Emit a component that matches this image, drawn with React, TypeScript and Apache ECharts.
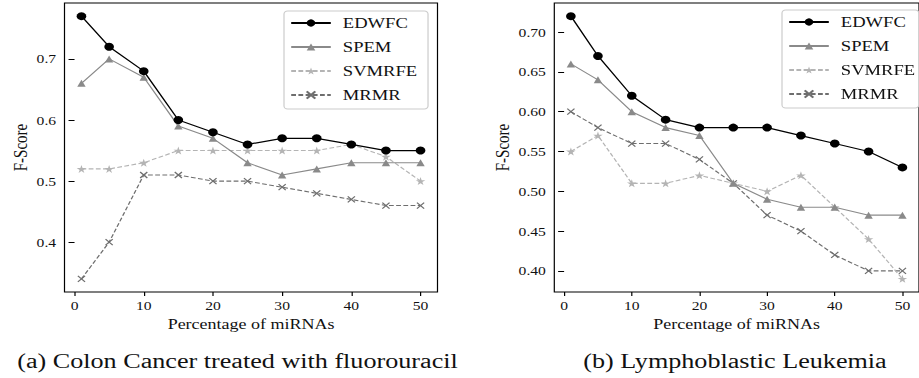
import React, { useEffect, useRef } from "react";
import * as echarts from "echarts";

// ---- data ----
const xValues = [1, 5, 10, 15, 20, 25, 30, 35, 40, 45, 50];
const seriesNames = ["EDWFC", "SPEM", "SVMRFE", "MRMR"];

const colonEDWFC = [0.77, 0.72, 0.68, 0.6, 0.58, 0.56, 0.57, 0.57, 0.56, 0.55, 0.55];
const colonSPEM = [0.66, 0.7, 0.67, 0.59, 0.57, 0.53, 0.51, 0.52, 0.53, 0.53, 0.53];
const colonSVMRFE = [0.52, 0.52, 0.53, 0.55, 0.55, 0.55, 0.55, 0.55, 0.56, 0.54, 0.5];
const colonMRMR = [0.34, 0.4, 0.51, 0.51, 0.5, 0.5, 0.49, 0.48, 0.47, 0.46, 0.46];

const leukEDWFC = [0.72, 0.67, 0.62, 0.59, 0.58, 0.58, 0.58, 0.57, 0.56, 0.55, 0.53];
const leukSPEM = [0.66, 0.64, 0.6, 0.58, 0.57, 0.51, 0.49, 0.48, 0.48, 0.47, 0.47];
const leukSVMRFE = [0.55, 0.57, 0.51, 0.51, 0.52, 0.51, 0.5, 0.52, 0.48, 0.44, 0.39];
const leukMRMR = [0.6, 0.58, 0.56, 0.56, 0.54, 0.51, 0.47, 0.45, 0.42, 0.4, 0.4];

const xTicks = [0, 10, 20, 30, 40, 50];
const colonYTicks = [0.4, 0.5, 0.6, 0.7];
const leukYTicks = [0.4, 0.45, 0.5, 0.55, 0.6, 0.65, 0.7];

const xAxisTitle = "Percentage of miRNAs";
const yAxisTitle = "F-Score";
const captionA = "(a) Colon Cancer treated with fluorouracil";
const captionB = "(b) Lymphoblastic Leukemia";

// ---- layout (horizontal stretch of the whole figure) ----
const S = 1.2;
const W = 919 / S;
const H = 378;
const px = (v: number) => v / S;
const FONT = "Liberation Serif";

const STAR =
  "path://M50,0 L61,35 L98,35 L68,57 L79,91 L50,70 L21,91 L32,57 L2,35 L39,35 Z";
const CROSS = "path://M0,0 L10,10 M10,0 L0,10";

const styles: Record<string, any> = {
  EDWFC: {
    symbol: "circle",
    symbolSize: 8,
    lineStyle: { color: "#000000", width: 1.2, type: "solid" },
    itemStyle: { color: "#000000" },
  },
  SPEM: {
    symbol: "triangle",
    symbolSize: 7,
    lineStyle: { color: "#8a8a8a", width: 1.1, type: "solid" },
    itemStyle: { color: "#8a8a8a" },
  },
  SVMRFE: {
    symbol: STAR,
    symbolSize: 8,
    lineStyle: { color: "#b4b4b4", width: 1.1, type: [4, 2] },
    itemStyle: { color: "#b4b4b4" },
  },
  MRMR: {
    symbol: CROSS,
    symbolSize: 6,
    lineStyle: { color: "#6e6e6e", width: 1.1, type: [4, 2] },
    itemStyle: { color: "rgba(0,0,0,0)", borderColor: "#6e6e6e", borderWidth: 1.1 },
  },
};

function makeSeries(name: string, values: number[], idx: number) {
  return {
    type: "line",
    name,
    xAxisIndex: idx,
    yAxisIndex: idx,
    data: xValues.map((x, i) => [x, values[i]]),
    ...styles[name],
    emphasis: { disabled: true },
    z: 10 - seriesNames.indexOf(name),
  };
}

function xAxis(idx: number) {
  return {
    type: "value",
    gridIndex: idx,
    min: -1.45,
    max: 52.45,
    axisLine: { show: false },
    splitLine: { show: false },
    axisTick: {
      show: true,
      inside: false,
      length: 4,
      customValues: xTicks,
      lineStyle: { color: "#000", width: 1 },
    },
    axisLabel: {
      customValues: xTicks,
      margin: 7,
      color: "#111",
      fontFamily: FONT,
      fontSize: 13,
    },
    name: xAxisTitle,
    nameLocation: "middle",
    nameGap: 24,
    nameTextStyle: { color: "#111", fontFamily: FONT, fontSize: 15 },
  };
}

function yAxis(idx: number, min: number, max: number, ticks: number[], dec: number, gap: number) {
  return {
    type: "value",
    gridIndex: idx,
    min,
    max,
    axisLine: { show: false },
    splitLine: { show: false },
    axisTick: {
      show: true,
      inside: false,
      length: 5,
      customValues: ticks,
      lineStyle: { color: "#000", width: 1 },
    },
    axisLabel: {
      customValues: ticks,
      margin: 7,
      color: "#111",
      fontFamily: FONT,
      fontSize: 13,
      formatter: (v: number) => v.toFixed(dec),
    },
    name: yAxisTitle,
    nameLocation: "middle",
    nameGap: gap,
    nameTextStyle: { color: "#111", fontFamily: FONT, fontSize: 15 },
  };
}

function legend(left: number, top: number, padding: number[]) {
  return {
    show: true,
    orient: "vertical",
    left,
    top,
    data: seriesNames,
    itemWidth: 33,
    itemHeight: 9,
    itemGap: 8,
    padding,
    backgroundColor: "#ffffff",
    borderColor: "#cccccc",
    borderWidth: 1,
    borderRadius: 3,
    selectedMode: false,
    textStyle: { color: "#111", fontFamily: FONT, fontSize: 15.5, lineHeight: 15, padding: [0, 0, 0, 5] },
  };
}

function caption(text: string, cx: number) {
  return {
    type: "text",
    x: px(cx),
    y: 361,
    scaleX: 1.09,
    style: {
      text,
      fontFamily: FONT,
      fontSize: 20,
      fill: "#111",
      align: "center",
      verticalAlign: "middle",
    },
  };
}

export default function App() {
  const ref = useRef<HTMLDivElement>(null);

  useEffect(() => {
    document.body.style.margin = "0";
    if (!ref.current) return;
    const chart = echarts.init(ref.current, undefined, { renderer: "svg", width: W, height: H });
    const option: any = {
      animation: false,
      backgroundColor: "#ffffff",
      textStyle: { fontFamily: FONT },
      grid: [
        {
          left: px(64.5),
          top: 3,
          width: px(373),
          height: 289,
          show: true,
          borderColor: "#000",
          borderWidth: 1,
          backgroundColor: "transparent",
        },
        {
          left: px(554.3),
          top: 3,
          width: px(373),
          height: 289,
          show: true,
          borderColor: "#000",
          borderWidth: 1,
          backgroundColor: "transparent",
        },
      ],
      xAxis: [xAxis(0), xAxis(1)],
      yAxis: [
        yAxis(0, 0.3185, 0.7915, colonYTicks, 1, 29),
        yAxis(1, 0.3735, 0.7365, leukYTicks, 2, 35),
      ],
      legend: [legend(px(284), 11, [4, 9, 6, 5]), legend(px(782), 10, [4, 3, 6, 5])],
      series: [
        makeSeries("EDWFC", colonEDWFC, 0),
        makeSeries("SPEM", colonSPEM, 0),
        makeSeries("SVMRFE", colonSVMRFE, 0),
        makeSeries("MRMR", colonMRMR, 0),
        makeSeries("EDWFC", leukEDWFC, 1),
        makeSeries("SPEM", leukSPEM, 1),
        makeSeries("SVMRFE", leukSVMRFE, 1),
        makeSeries("MRMR", leukMRMR, 1),
      ],
      graphic: [caption(captionA, 237.5), caption(captionB, 735)],
    };
    chart.setOption(option);
    return () => chart.dispose();
  }, []);

  return (
    <div
      ref={ref}
      style={{
        position: "absolute",
        left: 0,
        top: 0,
        width: W,
        height: H,
        transform: `scaleX(${S})`,
        transformOrigin: "0 0",
      }}
    />
  );
}
